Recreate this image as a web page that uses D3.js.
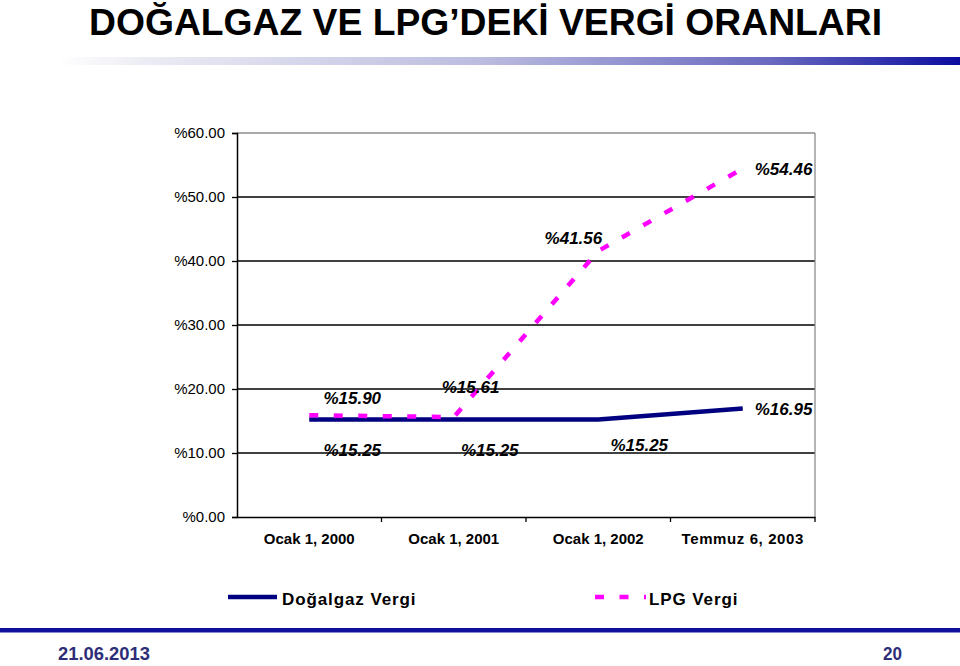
<!DOCTYPE html>
<html><head><meta charset="utf-8">
<script src="https://cdn.jsdelivr.net/npm/d3@7"></script>
<style>html,body{margin:0;padding:0;background:#fff;}svg{display:block;}</style>
</head><body>
<script>
const categories = ["Ocak 1, 2000", "Ocak 1, 2001", "Ocak 1, 2002", "Temmuz 6, 2003"];
const dogalgaz = [15.25, 15.25, 15.25, 16.95];
const lpg = [15.90, 15.61, 41.56, 54.46];
const yTicks = [0, 10, 20, 30, 40, 50, 60];
const seriesNames = ["Doğalgaz Vergi", "LPG Vergi"];

(function () {
const W = 960, H = 666;
const svg = d3.select("body").append("svg").attr("width", W).attr("height", H);
const defs = svg.append("defs");
const grad = defs.append("linearGradient").attr("id", "bar").attr("x1", "0").attr("x2", "1").attr("y1", "0").attr("y2", "0");
[[0, "#ffffff"], [0.06, "#ffffff"], [0.15, "#ececf4"], [0.5, "#bcbce0"], [0.8, "#6a6ac0"], [1, "#0c0ca0"]]
  .forEach(([o, c]) => grad.append("stop").attr("offset", o).attr("stop-color", c));

// title
svg.append("text").attr("x", 89).attr("y", 35)
  .attr("font-family", "'Liberation Sans',Arial,sans-serif")
  .attr("font-weight", "bold").attr("font-size", 36)
  .attr("textLength", 793).attr("lengthAdjust", "spacingAndGlyphs")
  .text("DOĞALGAZ VE LPG’DEKİ VERGİ ORANLARI");
svg.append("rect").attr("x", 0).attr("y", 57).attr("width", W).attr("height", 8).attr("fill", "url(#bar)");

// footer
const footFont = "'Liberation Sans',Arial,sans-serif";
svg.append("rect").attr("x", 0).attr("y", 628).attr("width", W).attr("height", 4.5).attr("fill", "#10109a");
svg.append("text").attr("x", 58).attr("y", 660)
  .attr("font-family", footFont).attr("font-size", 18).attr("font-weight", "bold")
  .attr("fill", "#2e2e78").attr("textLength", 92).attr("lengthAdjust", "spacingAndGlyphs").text("21.06.2013");
svg.append("text").attr("x", 883).attr("y", 660)
  .attr("font-family", footFont).attr("font-size", 18).attr("font-weight", "bold")
  .attr("fill", "#2e2e78").attr("textLength", 19).attr("lengthAdjust", "spacingAndGlyphs").text("20");

// chart
const pLeft = 237, pRight = 815, pTop = 133, pBottom = 517;
const x = d3.scaleBand().domain(categories).range([pLeft, pRight]);
const y = d3.scaleLinear().domain([0, 60]).range([pBottom, pTop]);
const font = "'Liberation Sans',Arial,sans-serif";

// grid
svg.append("g").selectAll("line").data(yTicks.filter(d => d > 0 && d < 60)).join("line")
  .attr("x1", pLeft).attr("x2", pRight).attr("y1", d => y(d)).attr("y2", d => y(d))
  .attr("stroke", "#000").attr("stroke-width", 1.3);
svg.append("line").attr("x1", pLeft).attr("x2", pRight).attr("y1", y(60)).attr("y2", y(60)).attr("stroke", "#8c8c8c").attr("stroke-width", 1.3);
svg.append("line").attr("x1", pRight).attr("x2", pRight).attr("y1", y(60)).attr("y2", y(0)).attr("stroke", "#8c8c8c").attr("stroke-width", 1.3);

// y axis
const yAxis = d3.axisLeft(y).tickValues(yTicks).tickSize(5).tickPadding(7).tickFormat(d => "%" + d.toFixed(2));
const gy = svg.append("g").attr("transform", `translate(${pLeft},0)`).call(yAxis);
gy.select(".domain").attr("stroke", "#000").attr("stroke-width", 1.5);
gy.selectAll(".tick line").attr("stroke", "#000").attr("stroke-width", 1.3);
gy.selectAll(".tick text").attr("font-family", font).attr("font-size", 15).attr("fill", "#000");

// x axis
const xAxis = d3.axisBottom(x).tickSize(0).tickPadding(16);
const gx = svg.append("g").attr("transform", `translate(0,${pBottom})`).call(xAxis);
gx.select(".domain").attr("stroke", "#000").attr("stroke-width", 1.5);
gx.selectAll(".tick text").attr("font-family", font).attr("font-size", 15).attr("font-weight", "bold").attr("fill", "#000")
  .attr("letter-spacing", (d, i) => i === 3 ? 0.6 : 0);
svg.append("g").selectAll("line").data(categories).join("line")
  .attr("x1", d => x(d) + x.bandwidth()).attr("x2", d => x(d) + x.bandwidth())
  .attr("y1", pBottom).attr("y2", pBottom + 5).attr("stroke", "#000").attr("stroke-width", 1.3);

const cx = (i) => x(categories[i]) + x.bandwidth() / 2;
const line = d3.line().x((d, i) => cx(i)).y(d => y(d));

svg.append("path").datum(dogalgaz).attr("d", line).attr("fill", "none")
  .attr("stroke", "#000080").attr("stroke-width", 4.5);
svg.append("path").datum(lpg).attr("d", line).attr("fill", "none")
  .attr("stroke", "#ff00ff").attr("stroke-width", 4.5).attr("stroke-dasharray", "9,15.5");

// data labels
const dgOff = [[43, 37, "middle"], [36, 37, "middle"], [41, 32, "middle"], [12, 6, "start"]];
const lpgOff = [[43, -11, "middle"], [-12, -24, "start"], [4, -7, "end"], [12, 7, "start"]];
function labels(vals, offs) {
  svg.append("g").selectAll("text").data(vals).join("text")
    .attr("x", (d, i) => cx(i) + offs[i][0]).attr("y", (d, i) => y(d) + offs[i][1])
    .attr("text-anchor", (d, i) => offs[i][2])
    .attr("font-family", font).attr("font-size", 17).attr("font-weight", "bold").attr("font-style", "italic")
    .text(d => "%" + d.toFixed(2));
}
labels(dogalgaz, dgOff);
labels(lpg, lpgOff);

// legend
const lg = svg.append("g");
lg.append("line").attr("x1", 228).attr("x2", 277).attr("y1", 597).attr("y2", 597).attr("stroke", "#000080").attr("stroke-width", 4.5);
lg.append("text").attr("x", 282).attr("y", 605).attr("font-family", font).attr("font-size", 17).attr("font-weight", "bold").attr("letter-spacing", 0.9).text(seriesNames[0]);
lg.append("line").attr("x1", 595).attr("x2", 646).attr("y1", 597).attr("y2", 597).attr("stroke", "#ff00ff").attr("stroke-width", 4.5).attr("stroke-dasharray", "9,15.5");
lg.append("text").attr("x", 649).attr("y", 605).attr("font-family", font).attr("font-size", 17).attr("font-weight", "bold").attr("letter-spacing", 0.9).text(seriesNames[1]);
})();
</script>
</body></html>
